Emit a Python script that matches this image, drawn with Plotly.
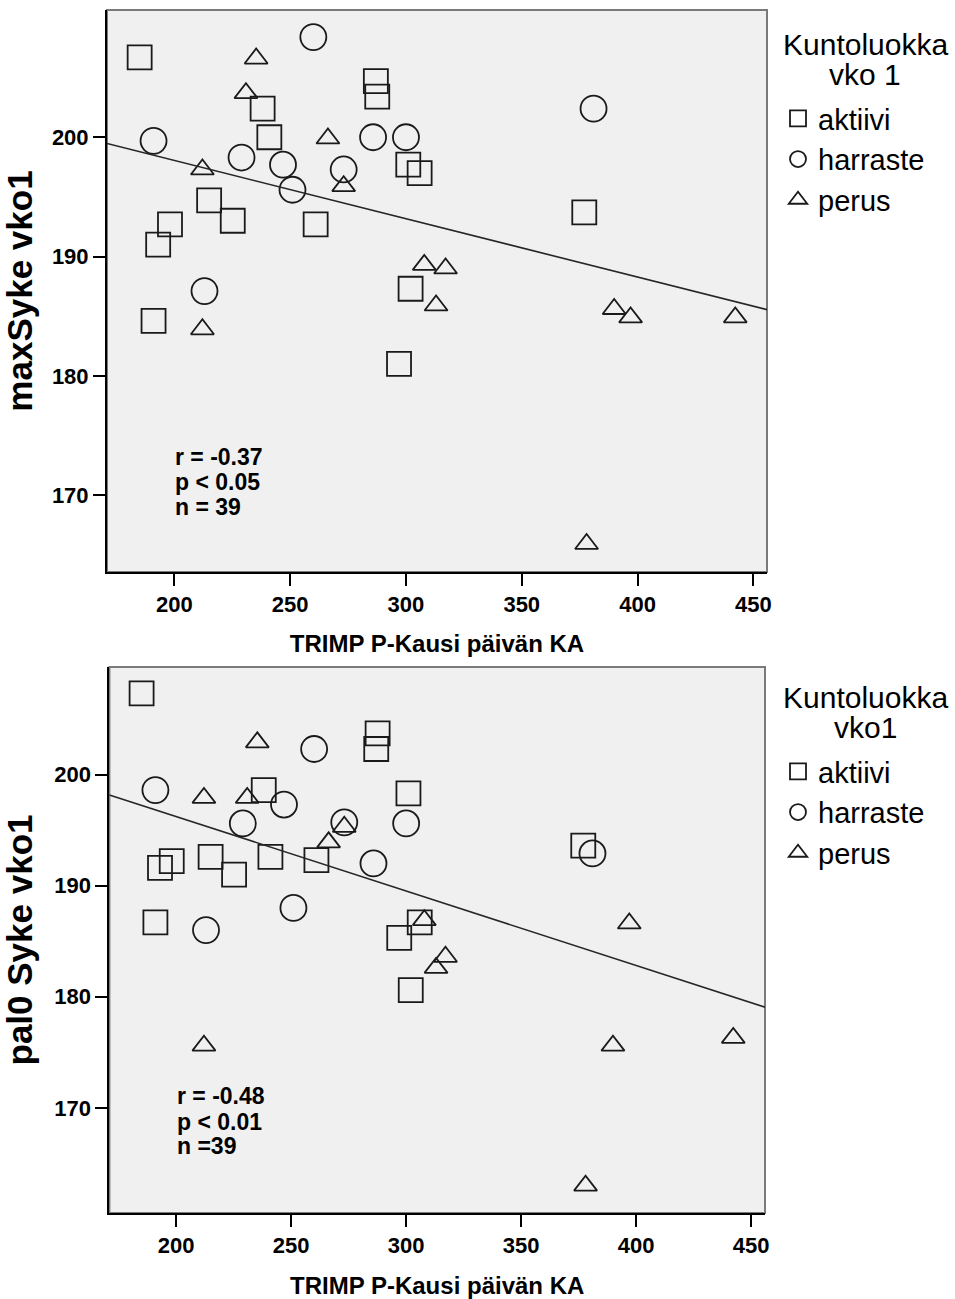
import numpy as np
import plotly.graph_objects as go

# TRIMP P-Kausi päivän KA (shared x) with maxSyke vko1 (top) and pal0 Syke vko1 (bottom)
aktiivi_trimp = [185.0, 287.0, 287.6, 238.1, 241.0, 301.0, 305.9, 215.0, 225.2, 261.0, 198.1, 193.0, 302.0, 191.0, 297.0, 377.0]
aktiivi_max = [206.7, 204.7, 203.4, 202.4, 200.0, 197.7, 197.0, 194.7, 193.0, 192.7, 192.7, 191.0, 187.3, 184.6, 181.0, 193.7]
aktiivi_pal0 = [207.3, 202.3, 203.7, 198.6, 192.6, 198.3, 186.7, 192.6, 191.0, 192.3, 192.2, 191.6, 180.6, 186.7, 185.3, 193.6]

harraste_trimp = [260.0, 285.8, 300.0, 191.0, 229.0, 246.9, 273.1, 251.0, 213.0, 381.0]
harraste_max = [208.4, 200.0, 200.0, 199.7, 198.3, 197.7, 197.3, 195.6, 187.1, 202.4]
harraste_pal0 = [202.3, 192.0, 195.6, 198.6, 195.6, 197.3, 195.7, 188.0, 186.0, 192.9]

perus_trimp = [235.3, 230.9, 266.3, 212.1, 273.1, 307.9, 317.1, 212.1, 313.0, 389.9, 397.0, 442.2, 378.0]
perus_max = [206.6, 203.7, 199.9, 197.3, 195.9, 189.3, 189.0, 183.9, 185.9, 185.6, 184.9, 184.9, 165.9]
perus_pal0 = [202.9, 197.9, 193.9, 197.9, 195.3, 186.9, 183.6, 175.6, 182.6, 175.6, 186.6, 176.3, 163.0]

group_names = ["aktiivi", "harraste", "perus"]
group_symbols = ["square-open", "circle-open", "triangle-up-open"]
group_sizes = [24, 26, 20]

x_title = "TRIMP P-Kausi päivän KA"
y_titles = ["maxSyke vko1", "pal0 Syke vko1"]
legend_titles = [["Kuntoluokka", "vko 1"], ["Kuntoluokka", "vko1"]]
stats_texts = [["r = -0.37", "p < 0.05", "n = 39"], ["r = -0.48", "p < 0.01", "n =39"]]

x_ticks = [200, 250, 300, 350, 400, 450]
y_ticks = [170, 180, 190, 200]

FONT = "Liberation Sans, Arial, sans-serif"
INK = "#1a1a1a"

trimp = [aktiivi_trimp, harraste_trimp, perus_trimp]
panels = [
    dict(y=[aktiivi_max, harraste_max, perus_max], xref="x", yref="y",
         xrange=[170.9, 455.9], yrange=[163.55, 210.67], legend="legend",
         stats_y=[173.2, 171.1, 169.0]),
    dict(y=[aktiivi_pal0, harraste_pal0, perus_pal0], xref="x2", yref="y2",
         xrange=[171.0, 456.0], yrange=[160.54, 209.68], legend="legend2",
         stats_y=[171.1, 168.75, 166.55]),
]

fig = go.Figure()

for p in panels:
    for name, sym, size, xs, ys in zip(group_names, group_symbols, group_sizes, trimp, p["y"]):
        fig.add_trace(go.Scatter(
            x=xs, y=ys, mode="markers", name=name,
            xaxis=p["xref"], yaxis=p["yref"], legend=p["legend"],
            marker=dict(symbol=sym, size=size, color=INK, line=dict(width=1.8, color=INK)),
            hoverinfo="x+y",
        ))
    # least-squares fit line over all groups, spanning the whole x axis
    all_x = np.concatenate([np.asarray(v, float) for v in trimp])
    all_y = np.concatenate([np.asarray(v, float) for v in p["y"]])
    slope, intercept = np.polyfit(all_x, all_y, 1)
    fx = np.array(p["xrange"])
    fig.add_trace(go.Scatter(
        x=fx, y=intercept + slope * fx, mode="lines", showlegend=False,
        xaxis=p["xref"], yaxis=p["yref"], line=dict(color="#262626", width=1.6),
        hoverinfo="skip",
    ))

W, H = 955, 1299
ML, MR, MT, MB = 107, 188, 10, 86
plot_h = H - MT - MB
plot_w = W - ML - MR


def py(pix):
    """pixel row -> paper fraction"""
    return (H - MB - pix) / plot_h


def px(pix):
    """pixel column -> paper fraction"""
    return (pix - ML) / plot_w


axis_common = dict(
    showgrid=False, zeroline=False, showline=True, linecolor="black", linewidth=2,
    ticks="outside", ticklen=12, tickwidth=2, tickcolor="black", automargin=False,
    tickfont=dict(family=FONT, size=22, color="black", weight="bold"),
)

fig.update_layout(
    width=W, height=H,
    margin=dict(l=ML, r=MR, t=MT, b=MB, autoexpand=False),
    paper_bgcolor="white", plot_bgcolor="#f0f0f0",
    font=dict(family=FONT, color="black"),
    xaxis=dict(domain=[0, px(767)], range=panels[0]["xrange"], tickvals=x_ticks, anchor="y",
               title=dict(text=x_title, font=dict(size=24, weight="bold"), standoff=19), **axis_common),
    yaxis=dict(domain=[py(572), 1], range=panels[0]["yrange"], tickvals=y_ticks, anchor="x",
               title=dict(text=y_titles[0], font=dict(size=35, weight="bold"), standoff=13), **axis_common),
    xaxis2=dict(domain=[px(109.4), px(765)], range=panels[1]["xrange"], tickvals=x_ticks, anchor="y2",
                title=dict(text=x_title, font=dict(size=24, weight="bold"), standoff=23), **axis_common),
    yaxis2=dict(domain=[0, py(667)], range=panels[1]["yrange"], tickvals=y_ticks, anchor="x2",
                title=dict(text=y_titles[1], font=dict(size=35, weight="bold"), standoff=13), **axis_common),
    legend=dict(x=px(778), y=py(93), xanchor="left", yanchor="top", bgcolor="rgba(0,0,0,0)",
                font=dict(size=29, color="black"), tracegroupgap=0),
    legend2=dict(x=px(778), y=py(746), xanchor="left", yanchor="top", bgcolor="rgba(0,0,0,0)",
                 font=dict(size=29, color="black"), tracegroupgap=0),
    showlegend=True,
)

# grey frame on the top and right of each plot area
for xr, yr in (("x", "y"), ("x2", "y2")):
    fig.add_shape(type="rect", xref=f"{xr} domain", yref=f"{yr} domain", x0=0, x1=1, y0=0, y1=1,
                  line=dict(color="#7a7a7a", width=2), fillcolor="rgba(0,0,0,0)", layer="below")

# correlation statistics
for p, texts in zip(panels, stats_texts):
    for t, yv in zip(texts, p["stats_y"]):
        fig.add_annotation(x=200, y=yv, xref=p["xref"], yref=p["yref"], text=t, showarrow=False,
                           xanchor="left", yanchor="middle", borderpad=0,
                           font=dict(family=FONT, size=23, color="black", weight="bold"))

# legend headings
for (l1, l2), (y1, y2) in zip(legend_titles, [(44.6, 74.6), (697.6, 727.6)]):
    for t, yy in ((l1, y1), (l2, y2)):
        fig.add_annotation(x=px(865), y=py(yy), xref="paper", yref="paper", text=t, showarrow=False,
                           xanchor="center", yanchor="middle", borderpad=0,
                           font=dict(family=FONT, size=30, color="black"))

fig.write_html("out.html")
